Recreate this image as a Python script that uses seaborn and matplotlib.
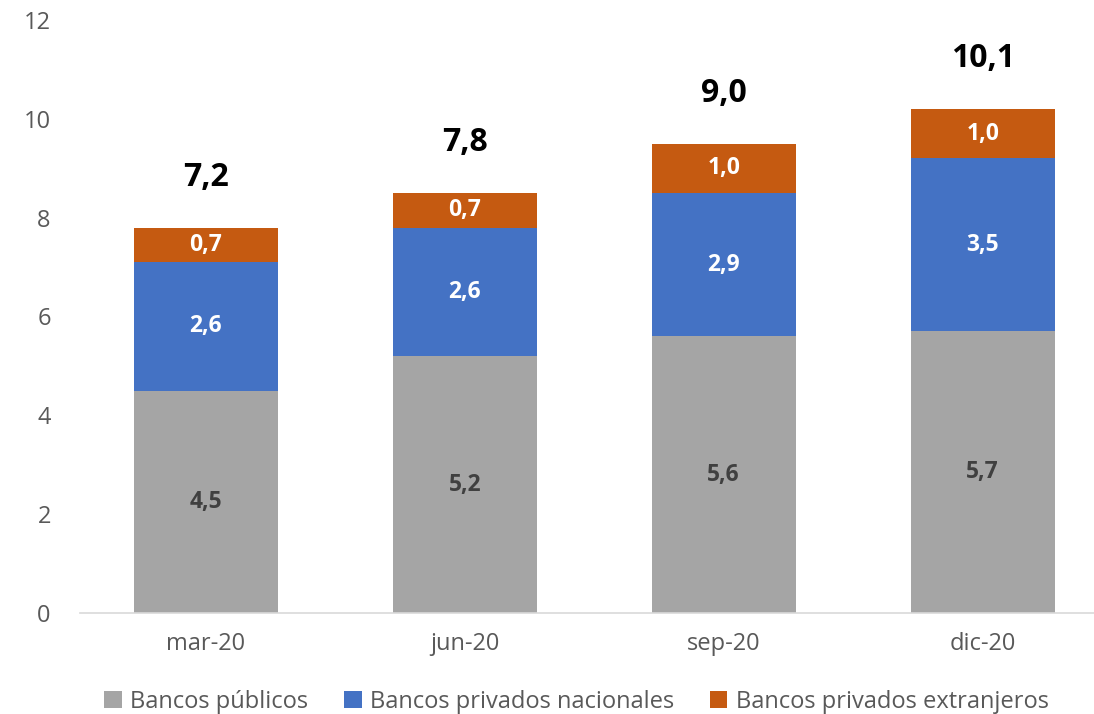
import numpy as np
import pandas as pd
import seaborn as sns
import matplotlib.pyplot as plt
from matplotlib.patches import Patch

# periods and the three stacked series
periodos = ['mar-20', 'jun-20', 'sep-20', 'dic-20']
publicos = [4.5, 5.2, 5.6, 5.7]
nacionales = [2.6, 2.6, 2.9, 3.5]
extranjeros = [0.7, 0.7, 1.0, 1.0]
totales = ['7,2', '7,8', '9,0', '10,1']

series = ['Bancos públicos', 'Bancos privados nacionales', 'Bancos privados extranjeros']
colores = ['#A5A5A5', '#4472C4', '#C55A11']
label_colors = ['#404040', 'white', 'white']

sns.set_style('white')
plt.rcParams['font.family'] = ['Open Sans', 'DejaVu Sans']

fig = plt.figure(figsize=(10.94, 7.14), dpi=100)
ax = fig.add_axes([80 / 1094, 1 - 613 / 714, 1014 / 1094, 593 / 714])

bottom = np.zeros(len(periodos))
for vals, color, lc in zip([publicos, nacionales, extranjeros], colores, label_colors):
    sns.barplot(x=periodos, y=vals, bottom=bottom, color=color, width=0.556,
                saturation=1, ax=ax, edgecolor='none')
    cont = ax.containers[-1]
    ax.bar_label(cont, labels=[f'{v:.1f}'.replace('.', ',') for v in vals],
                 label_type='center', color=lc, fontsize=16.5, fontweight='bold')
    bottom = bottom + np.array(vals)

# totals above each bar
for i, (top, txt) in enumerate(zip(bottom, totales)):
    ax.annotate(txt, xy=(i, top), xytext=(0, 36), textcoords='offset points',
                ha='center', va='center', fontsize=23, fontweight='bold', color='black')

ax.set_xlim(-0.486, 3.43)
ax.set_ylim(0, 12)
ax.set_yticks(range(0, 13, 2))
ax.tick_params(axis='both', colors='#595959', labelsize=17, length=0)
ax.tick_params(axis='x', pad=14)
ax.tick_params(axis='y', pad=21)
for s in ['top', 'right', 'left']:
    ax.spines[s].set_visible(False)
ax.spines['bottom'].set_color('#D9D9D9')
ax.spines['bottom'].set_linewidth(1.2)
ax.set_xlabel('')
ax.set_ylabel('')

handles = [Patch(facecolor=c, edgecolor='none') for c in colores]
fig.legend(handles, series, loc='center', bbox_to_anchor=(0.527, 0.017), ncol=3,
           frameon=False, fontsize=17, labelcolor='#595959', handlelength=0.75,
           handleheight=0.75, handletextpad=0.35, columnspacing=1.5)

fig.savefig('out.png', dpi=100)
